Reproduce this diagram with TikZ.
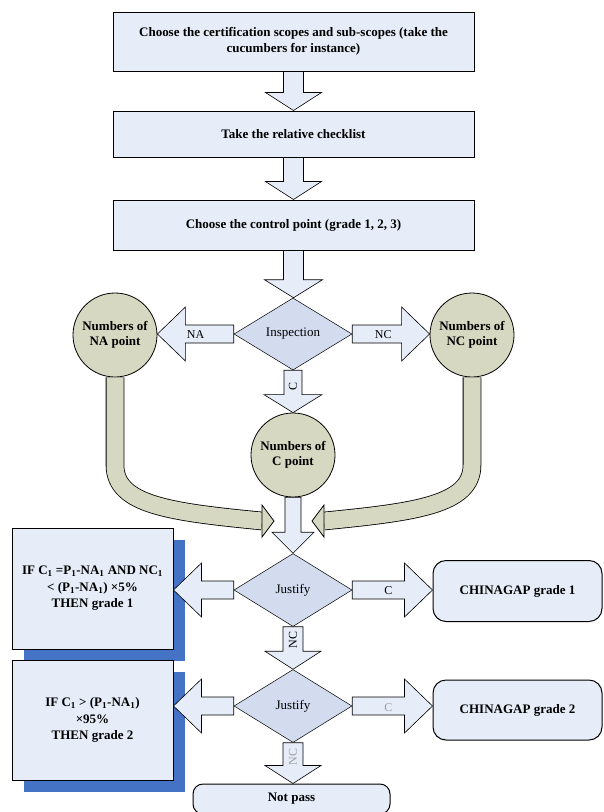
\documentclass[tikz,border=0pt]{standalone}
\usepackage{fontspec}
\setmainfont{Liberation Serif}
\usetikzlibrary{shapes.geometric,calc,shadows}
\definecolor{boxblue}{HTML}{E6ECF8}
\definecolor{diamblue}{HTML}{D3DBEF}
\definecolor{sage}{HTML}{D6D8C1}
\definecolor{shadowblue}{HTML}{4472C4}
\definecolor{fadegrey}{HTML}{A0A0A0}
\newcommand{\blkdown}[4]{%
  \draw[blkarrow] let \p1=(#1), \p2=(#2) in
    (\x1-#3,\y1) -- (\x1-#3,\y2+18pt) -- (\x1-#4,\y2+18pt) -- (\x1,\y2)
    -- (\x1+#4,\y2+18pt) -- (\x1+#3,\y2+18pt) -- (\x1+#3,\y1) -- cycle;}
\newcommand{\blkleft}[2]{%
  \draw[blkarrow] let \p1=(#1), \p2=(#2) in
    (\x1,\y1+9pt) -- (\x2+28pt,\y1+9pt) -- (\x2+28pt,\y1+27pt) -- (\x2,\y1)
    -- (\x2+28pt,\y1-27pt) -- (\x2+28pt,\y1-9pt) -- (\x1,\y1-9pt) -- cycle;}
\newcommand{\blkright}[2]{%
  \draw[blkarrow] let \p1=(#1), \p2=(#2) in
    (\x1,\y1+9pt) -- (\x2-28pt,\y1+9pt) -- (\x2-28pt,\y1+27pt) -- (\x2,\y1)
    -- (\x2-28pt,\y1-27pt) -- (\x2-28pt,\y1-9pt) -- (\x1,\y1-9pt) -- cycle;}

\begin{document}
\begin{tikzpicture}[x=1pt,y=-1pt,font=\fontsize{13}{15}\selectfont,
  stepbox/.style={draw,line width=1pt,fill=boxblue,minimum width=361pt,inner sep=0pt,align=center,font=\fontsize{13}{16}\selectfont\bfseries},
  decide/.style={diamond,draw,line width=0.5pt,fill=diamblue,inner sep=0pt,minimum width=118pt,minimum height=73pt},
  count/.style={circle,draw,line width=0.8pt,fill=sage,minimum size=84pt,inner sep=0pt,align=center,font=\fontsize{13}{15}\selectfont\bfseries},
  rulebox/.style={draw,line width=1pt,fill=boxblue,minimum width=161pt,minimum height=121pt,inner sep=0pt,align=center,font=\fontsize{13}{16.5}\selectfont\bfseries,
    drop shadow={shadow xshift=12pt,shadow yshift=-12pt,fill=shadowblue,opacity=1}},
  result/.style={draw,line width=1pt,rounded corners=13pt,fill=boxblue,minimum width=169pt,minimum height=61pt,font=\fontsize{13}{15}\selectfont\bfseries},
  blkarrow/.style={draw,line width=0.6pt,fill=boxblue},
  sageline/.style={double=sage,double distance=17pt,line width=0.8pt},
  lbl/.style={font=\fontsize{12}{14}\selectfont}]
\useasboundingbox (0,0) rectangle (604,812);

\node[stepbox,minimum height=59pt] (choose) at (293.5,41.5) {Choose the certification scopes and sub-scopes (take the\\cucumbers for instance)};
\node[stepbox,minimum height=46pt] (take) at (293.5,134) {Take the relative checklist};
\node[stepbox,minimum height=50pt] (control) at (293.5,225) {Choose the control point (grade 1, 2, 3)};

\node[decide,minimum height=72pt] (insp) at (293,334) {Inspection};
\node[count] (nacirc) at (115,335) {Numbers of\\NA point};
\node[count] (nccirc) at (472,335) {Numbers of\\NC point};
\node[count] (ccirc) at (293,455) {Numbers of\\C point};

\node[decide] (just1) at (293,590) {Justify};
\node[decide] (just2) at (293,706) {Justify};
\node[rulebox] (res1) at (92.5,588.5) {IF C\textsubscript{1} =P\textsubscript{1}-NA\textsubscript{1} AND NC\textsubscript{1}\\< (P\textsubscript{1}-NA\textsubscript{1}) ×5\%\\THEN grade 1};
\node[rulebox,minimum height=120pt] (res2) at (92.5,720) {IF C\textsubscript{1} > (P\textsubscript{1}-NA\textsubscript{1})\\×95\%\\THEN grade 2};
\node[result] (gap1) at (517.5,591) {CHINAGAP grade 1};
\node[result,minimum height=60pt] (gap2) at (517.5,710) {CHINAGAP grade 2};
\node[result,minimum width=197pt,minimum height=30pt,rounded corners=10pt] (nopass) at (291.5,799) {Not pass};

\blkdown{choose.south}{take.north}{10pt}{28pt}
\blkdown{take.south}{control.north}{10pt}{28pt}
\blkdown{control.south}{insp.north}{10pt}{29pt}
\blkdown{insp.south}{ccirc.north}{9pt}{29pt}
\node[lbl,rotate=90] at (293,386) {C};

\blkleft{insp.west}{nacirc.east}
\node[lbl] at ($(insp.west)!0.5!(nacirc.east)$) {NA};
\blkright{insp.east}{nccirc.west}
\node[lbl] at ($(insp.east)!0.4!(nccirc.west)$) {NC};

% sage arrows joining on the C arrow
\coordinate (nahead) at (262,521);
\coordinate (nchead) at (324,521);
\draw[sageline] (nacirc.south) -- (115,465) .. controls (115,505) and (170,512) .. (nahead);
\draw[sageline] (nccirc.south) -- (472,465) .. controls (472,505) and (415,512) .. (nchead);
\filldraw[fill=sage,line width=0.8pt] (nahead) ++(0,-16) -- ++(12,16) -- ++(-12,16) -- cycle;
\filldraw[fill=sage,line width=0.8pt] (nchead) ++(0,-16) -- ++(-12,16) -- ++(12,16) -- cycle;
\draw[blkarrow] let \p1=(ccirc.south), \p2=(just1.north) in
  (\x1-8pt,\y1) -- (\x1-8pt,\y2+21pt) -- (\x1-21pt,\y2+21pt) -- (\x1,\y2)
  -- (\x1+21pt,\y2+21pt) -- (\x1+8pt,\y2+21pt) -- (\x1+8pt,\y1) -- cycle;

\blkleft{just1.west}{res1.east}
\blkright{just1.east}{gap1.west}
\node[lbl] at ($(just1.east)!0.45!(gap1.west)$) {C};
\blkdown{just1.south}{just2.north}{10pt}{28pt}
\node[lbl,rotate=90] at (293,640) {NC};

\blkleft{just2.west}{res2.east}
\blkright{just2.east}{gap2.west}
\node[lbl,fadegrey] at ($(just2.east)!0.45!(gap2.west)$) {C};
\blkdown{just2.south}{nopass.north}{10pt}{28pt}
\node[lbl,rotate=90,fadegrey] at (293,757) {NC};
\end{tikzpicture}
\end{document}
